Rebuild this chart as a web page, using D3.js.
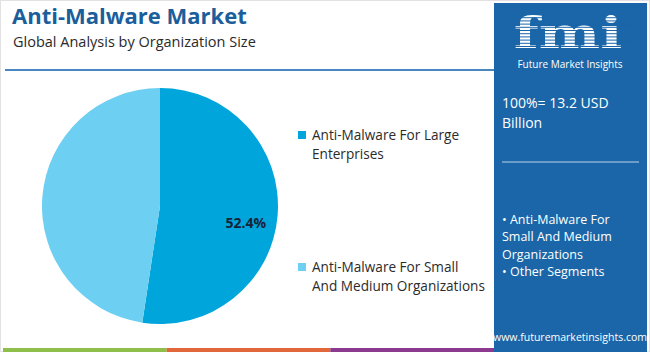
<!DOCTYPE html>
<html>
<head>
<meta charset="utf-8">
<script src="https://cdn.jsdelivr.net/npm/d3@7"></script>
<style>
  body { margin: 0; background: #fff; }
  svg { display: block; font-family: "Open Sans", "Noto Sans", sans-serif; }
</style>
</head>
<body>
<div id="chart"></div>
<script>
// chart data
var segments = ["Anti-Malware For Large Enterprises", "Anti-Malware For Small And Medium Organizations"];
var shares = [52.4, 47.6];
var sliceColors = ["#00a6db", "#6dcff1"];
var legendLines = [["Anti-Malware For Large", "Enterprises"], ["Anti-Malware For Small", "And Medium Organizations"]];
var totalLines = ["100%= 13.2 USD", "Billion"];
var panelBullets = ["\u2022 Anti-Malware For", "Small And Medium", "Organizations", "\u2022 Other Segments"];

var W = 650, H = 352;
var svg = d3.select("#chart").append("svg")
    .attr("width", W)
    .attr("height", H);

// frame
svg.append("rect")
    .attr("x", 0.5).attr("y", 0.5)
    .attr("width", W - 1).attr("height", H - 1)
    .attr("fill", "#fff")
    .attr("stroke", "#e2e2e2");

// title block
svg.append("text")
    .attr("x", 12).attr("y", 24)
    .attr("font-size", "22px")
    .attr("font-weight", "bold")
    .attr("fill", "#1b5e9c")
    .text("Anti-Malware Market");

svg.append("text")
    .attr("x", 13).attr("y", 47)
    .attr("font-size", "14.5px")
    .attr("fill", "#2a2a2a")
    .text("Global Analysis by Organization Size");

svg.append("line")
    .attr("x1", 5).attr("x2", 494)
    .attr("y1", 70).attr("y2", 70)
    .attr("stroke", "#4a86c0")
    .attr("stroke-width", 2);

// pie
var cx = 160, cy = 206, r = 118;
var pie = d3.pie().sort(null).value(function(d) { return d; });
var arc = d3.arc().innerRadius(0).outerRadius(r);
var arcs = pie(shares);

var g = svg.append("g").attr("transform", "translate(" + cx + "," + cy + ")");
g.selectAll("path")
    .data(arcs)
    .enter().append("path")
    .attr("d", arc)
    .attr("fill", function(d, i) { return sliceColors[i]; });

// label on the large slice only
var labelArc = d3.arc().innerRadius(r * 0.73).outerRadius(r * 0.73);
var c0 = labelArc.centroid(arcs[0]);
g.append("text")
    .attr("x", c0[0])
    .attr("y", c0[1] + 16)
    .attr("text-anchor", "middle")
    .attr("font-size", "14px")
    .attr("font-weight", "bold")
    .attr("fill", "#15233a")
    .text(shares[0].toFixed(1) + "%");

// legend
var legendY = d3.scaleOrdinal().domain(segments).range([135, 267]);
var legend = svg.selectAll("g.legend")
    .data(segments)
    .enter().append("g")
    .attr("class", "legend")
    .attr("transform", function(d) { return "translate(298," + legendY(d) + ")"; });

legend.append("rect")
    .attr("x", 0).attr("y", -4)
    .attr("width", 8).attr("height", 8)
    .attr("fill", function(d, i) { return sliceColors[i]; });

legend.each(function(d, i) {
    d3.select(this).selectAll("text")
        .data(legendLines[i])
        .enter().append("text")
        .attr("x", 14)
        .attr("y", function(t, j) { return 5 + j * 19; })
        .attr("font-size", "13.6px")
        .attr("fill", "#2b2b2b")
        .text(function(t) { return t; });
});

// right panel
var px = 494;
svg.append("rect")
    .attr("x", px).attr("y", 3)
    .attr("width", W - px - 3).attr("height", H - 3)
    .attr("fill", "#1a66a8");

// logo
var logo = svg.append("g").attr("transform", "translate(" + px + ",0)");
logo.append("text")
    .attr("transform", "translate(74,48) scale(1.45,1.05)")
    .attr("text-anchor", "middle")
    .attr("font-family", "DejaVu Serif, serif")
    .attr("font-size", "40px")
    .attr("font-weight", "bold")
    .attr("fill", "#fff")
    .text("fmi");
// stripe the letters
d3.range(14, 50, 3.2).forEach(function(y) {
    logo.append("rect")
        .attr("x", 12).attr("y", y)
        .attr("width", 126).attr("height", 1)
        .attr("fill", "#1a66a8");
});
logo.append("text")
    .attr("x", 76).attr("y", 67.5)
    .attr("text-anchor", "middle")
    .attr("font-size", "10px")
    .attr("fill", "#fff")
    .text("Future Market Insights");

var panelText = svg.append("g").attr("transform", "translate(" + (px + 8) + ",0)");
panelText.selectAll("text.total")
    .data(totalLines)
    .enter().append("text")
    .attr("class", "total")
    .attr("x", 0)
    .attr("y", function(d, i) { return 108 + i * 20; })
    .attr("font-size", "14px")
    .attr("fill", "#fff")
    .text(function(d) { return d; });

svg.append("line")
    .attr("x1", px + 8).attr("x2", px + 145)
    .attr("y1", 162).attr("y2", 162)
    .attr("stroke", "#b9d3ea")
    .attr("stroke-width", 1);

panelText.selectAll("text.bullet")
    .data(panelBullets)
    .enter().append("text")
    .attr("class", "bullet")
    .attr("x", 0)
    .attr("y", function(d, i) { return 224 + i * 17.3; })
    .attr("font-size", "12.5px")
    .attr("fill", "#fff")
    .text(function(d) { return d; });

svg.append("text")
    .attr("x", px + 76).attr("y", 341)
    .attr("text-anchor", "middle")
    .attr("font-size", "10.5px")
    .attr("fill", "#fff")
    .text("www.futuremarketinsights.com");

// bottom colour strip
var stripColors = ["#8dbf4a", "#e2673a", "#8c3a8f"];
var stripX = d3.scaleLinear().domain([0, 3]).range([3, px]);
svg.selectAll("rect.strip")
    .data(stripColors)
    .enter().append("rect")
    .attr("class", "strip")
    .attr("x", function(d, i) { return stripX(i); })
    .attr("y", H - 4)
    .attr("width", (px - 3) / 3)
    .attr("height", 4)
    .attr("fill", function(d) { return d; });
</script>
</body>
</html>
